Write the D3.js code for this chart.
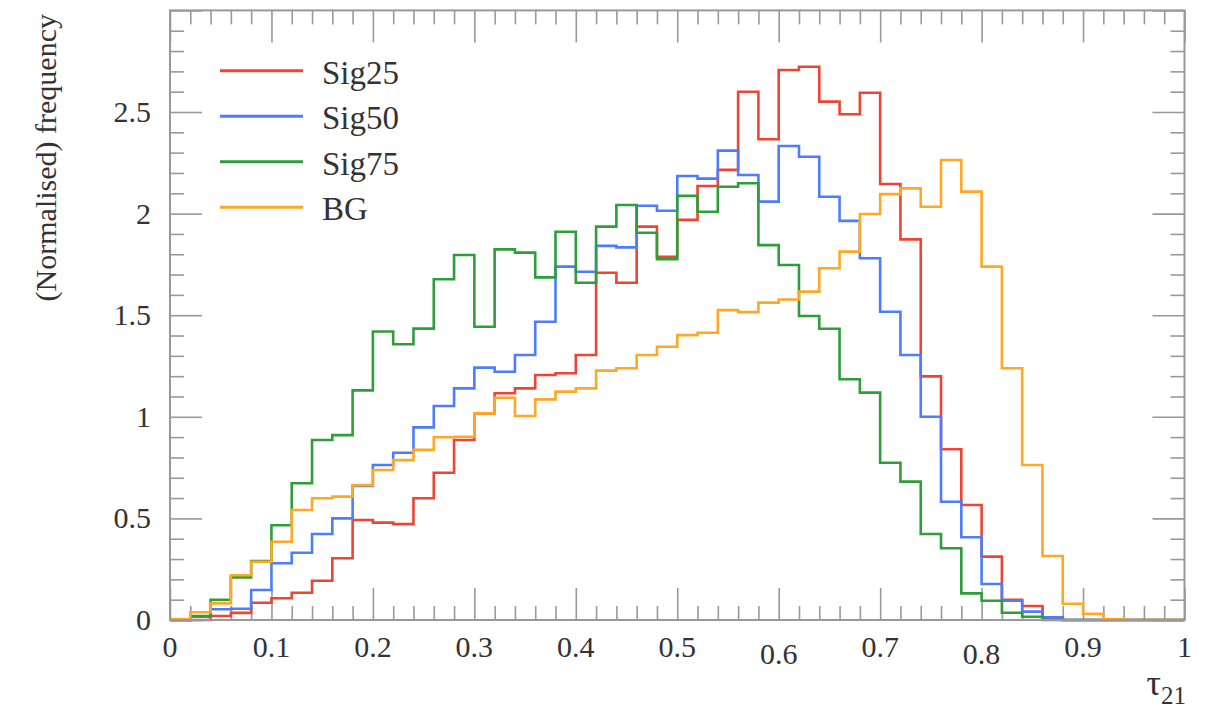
<!DOCTYPE html>
<html lang="en">

<head>
    <meta charset="UTF-8">
    <title>tau21</title>
    <script src="https://cdn.jsdelivr.net/npm/d3@7"></script>
    <style>
        body { margin: 0; background: white; }
        text { font-family: "Liberation Serif", "DejaVu Serif", serif; fill: #333; }
    </style>
</head>

<body>
    <svg id="chart" width="1208" height="715"></svg>

    <script type="text/javascript">

        // 50 bins of width 0.02 from 0 to 1
        const binEdges = d3.range(51).map(i => i / 50)

        const sig25 = [0, 0, 0.02, 0.035, 0.085, 0.107, 0.134, 0.193, 0.304, 0.492,
            0.479, 0.472, 0.599, 0.725, 0.886, 1.017, 1.116, 1.14, 1.206, 1.214,
            1.304, 1.709, 1.66, 1.936, 1.788, 1.969, 2.136, 2.215, 2.60, 2.366,
            2.707, 2.723, 2.551, 2.489, 2.595, 2.146, 1.873, 1.199, 0.84, 0.566,
            0.312, 0.10, 0.069, 0.01, 0, 0, 0, 0, 0, 0]

        const sig50 = [0, 0.016, 0.053, 0.055, 0.148, 0.279, 0.331, 0.423, 0.50, 0.66,
            0.763, 0.823, 0.948, 1.053, 1.14, 1.242, 1.222, 1.304, 1.468, 1.739,
            1.714, 1.841, 1.834, 2.039, 2.014, 2.185, 2.172, 2.31, 2.19, 2.059,
            2.333, 2.28, 2.083, 1.964, 1.78, 1.517, 1.304, 1.0, 0.582, 0.407,
            0.177, 0.095, 0.041, 0.013, 0, 0, 0, 0, 0, 0]

        const sig75 = [0, 0.02, 0.10, 0.21, 0.29, 0.466, 0.673, 0.886, 0.91, 1.13,
            1.42, 1.357, 1.434, 1.677, 1.796, 1.443, 1.824, 1.808, 1.686, 1.911,
            1.66, 1.936, 2.042, 1.906, 1.775, 2.087, 2.009, 2.132, 2.149, 1.845,
            1.747, 1.496, 1.433, 1.185, 1.119, 0.774, 0.681, 0.423, 0.353, 0.131,
            0.095, 0.036, 0.016, 0, 0, 0, 0, 0, 0, 0]

        const bg = [0.005, 0.038, 0.082, 0.22, 0.287, 0.385, 0.541, 0.599, 0.607, 0.664,
            0.738, 0.787, 0.837, 0.899, 0.902, 1.017, 1.094, 1.004, 1.086, 1.124,
            1.14, 1.227, 1.239, 1.304, 1.345, 1.402, 1.414, 1.525, 1.515, 1.562,
            1.577, 1.616, 1.731, 1.813, 1.998, 2.096, 2.124, 2.034, 2.264, 2.108,
            1.739, 1.239, 0.763, 0.315, 0.08, 0.03, 0.005, 0, 0, 0]

        const seriesNames = ['Sig25', 'Sig50', 'Sig75', 'BG']
        const seriesValues = [sig25, sig50, sig75, bg]
        const colors = ['#EE4433', '#4D7CFF', '#2E9E3A', '#FFA826']

        const xMajor = d3.range(11).map(i => i / 10)
        const xMinor = d3.range(51).map(i => i / 50).filter((d, i) => i % 5 != 0)
        const yMajor = d3.range(7).map(i => i / 2)
        const yMinor = d3.range(31).map(i => i / 10).filter((d, i) => i % 5 != 0)
        const yLabels = [0, 0.5, 1, 1.5, 2, 2.5]

        const pLeft = 170, pRight = 1184.5, pTop = 10.4, pBottom = 620

        const svg = d3.select('#chart')

        const x = d3.scaleLinear().domain([0, 1]).range([pLeft, pRight])
        const y = d3.scaleLinear().domain([0, 3]).range([pBottom, pTop])

        const fmt = d3.format('~g')

        // ticks, all pointing inward
        function ticks(axis, tr, vals, size) {
            let g = svg.append('g')
                .attr('transform', tr)
                .call(axis.tickValues(vals).tickSize(-size).tickFormat(''))
            g.select('.domain').remove()
            g.selectAll('line').attr('stroke', '#999').attr('stroke-width', 1.6)
        }

        ticks(d3.axisBottom(x), `translate(0,${pBottom})`, xMajor, 32)
        ticks(d3.axisBottom(x), `translate(0,${pBottom})`, xMinor, 14)
        ticks(d3.axisTop(x), `translate(0,${pTop})`, xMajor, 32)
        ticks(d3.axisTop(x), `translate(0,${pTop})`, xMinor, 14)
        ticks(d3.axisLeft(y), `translate(${pLeft},0)`, yMajor, 32)
        ticks(d3.axisLeft(y), `translate(${pLeft},0)`, yMinor, 14)
        ticks(d3.axisRight(y), `translate(${pRight},0)`, yMajor, 32)
        ticks(d3.axisRight(y), `translate(${pRight},0)`, yMinor, 14)

        // tick labels
        svg.append('g').selectAll('text')
            .data(xMajor)
            .join('text')
            .attr('x', d => x(d))
            .attr('y', d => (d == 0.6 || d == 0.8) ? 664 : 657)
            .attr('text-anchor', 'middle')
            .style('font-size', '30px')
            .text(d => fmt(d))

        svg.append('g').selectAll('text')
            .data(yLabels)
            .join('text')
            .attr('x', 151)
            .attr('y', d => y(d))
            .attr('dy', '0.33em')
            .attr('text-anchor', 'end')
            .style('font-size', '30px')
            .text(d => fmt(d))

        // histograms as steps
        const line = d3.line()
            .x(d => x(d[0]))
            .y(d => y(d[1]))

        seriesValues.forEach((vals, k) => {
            let pts = []
            vals.forEach((v, i) => {
                pts.push([binEdges[i], v])
                pts.push([binEdges[i + 1], v])
            })
            svg.append('path')
                .datum(pts)
                .attr('d', line)
                .attr('fill', 'none')
                .attr('stroke', colors[k])
                .attr('stroke-width', 2.6)
                .attr('stroke-linejoin', 'miter')
        })

        // frame
        svg.append('rect')
            .attr('x', pLeft)
            .attr('y', pTop)
            .attr('width', pRight - pLeft)
            .attr('height', pBottom - pTop)
            .attr('fill', 'none')
            .attr('stroke', '#999')
            .attr('stroke-width', 2)

        // legend
        const leg = svg.append('g')
        seriesNames.forEach((name, k) => {
            let ly = 70.7 + k * 45.5
            leg.append('line')
                .attr('x1', 220).attr('x2', 303)
                .attr('y1', ly).attr('y2', ly)
                .attr('stroke', colors[k])
                .attr('stroke-width', 3)
            leg.append('text')
                .attr('x', 322)
                .attr('y', ly + 13)
                .style('font-size', '33px')
                .text(name)
        })

        // axis titles
        svg.append('text')
            .attr('transform', 'translate(56,14) rotate(-90)')
            .attr('text-anchor', 'end')
            .style('font-size', '30px')
            .text('(Normalised) frequency')

        const xt = svg.append('text')
            .attr('x', 1186)
            .attr('y', 695)
            .attr('text-anchor', 'end')
            .style('font-size', '36px')
        xt.append('tspan').text('τ')
        xt.append('tspan')
            .attr('dy', 9)
            .style('font-size', '25px')
            .text('21')

    </script>
</body>

</html>
